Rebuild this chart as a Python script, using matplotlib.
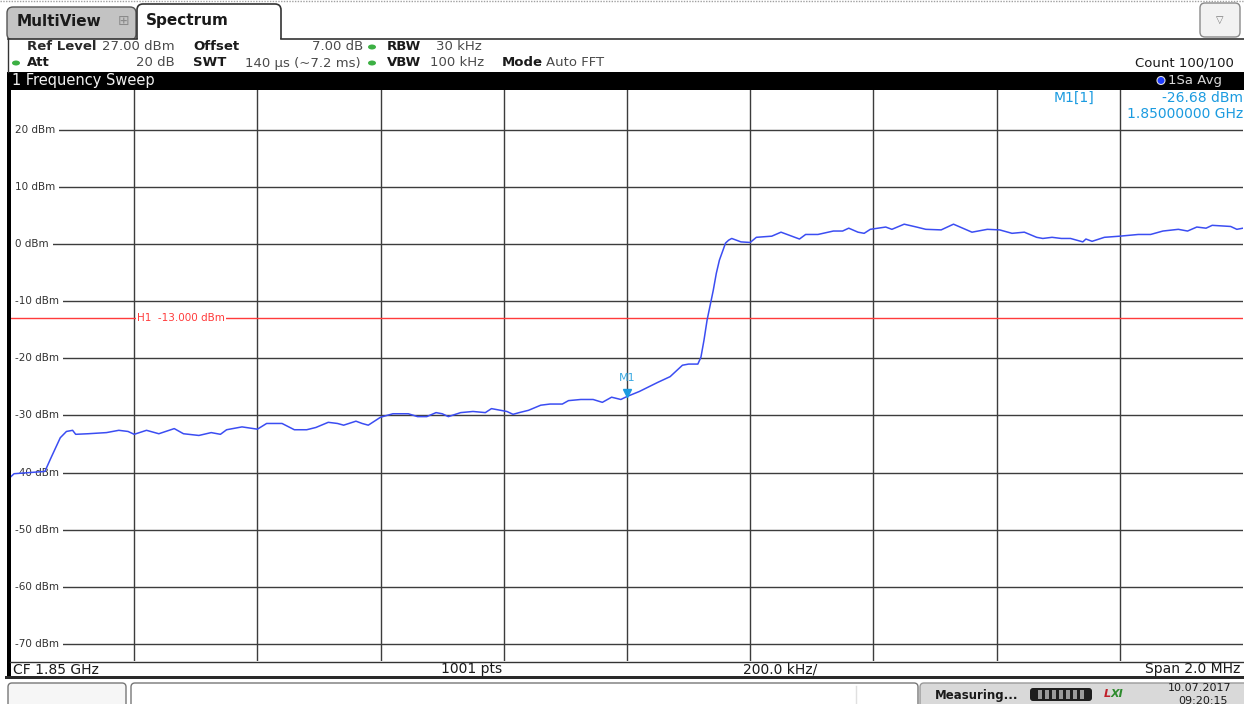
import matplotlib
matplotlib.use("Agg")
import matplotlib.pyplot as plt
import matplotlib.patches as patches
import matplotlib.transforms as mtransforms

W, H = 1244, 704

# sweep settings
center_mhz = 1850.0
span_mhz = 2.0
ref_level = 27.0
range_db = 100.0
h1_level = -13.0
marker_mhz = 1850.0
marker_level = -26.68

# averaged trace: offset from start frequency (kHz), level (dBm)
offset_khz = [0, 5, 30, 55, 65, 80, 90, 100, 105, 125, 155, 175, 190, 200, 220,
              240, 265, 280, 305, 325, 340, 350, 375, 400, 415, 440, 460, 480,
              495, 515, 530, 540, 560, 570, 580, 600, 620, 645, 660, 675, 690,
              700, 710, 730, 750, 770, 780, 795, 805, 815, 825, 840, 860, 875,
              895, 905, 925, 945, 960, 975, 990, 1000, 1020, 1050, 1070, 1090,
              1100, 1115, 1120, 1125, 1130, 1140, 1145, 1150, 1160, 1165, 1170,
              1185, 1200, 1210, 1235, 1250, 1280, 1290, 1310, 1335, 1350, 1360,
              1375, 1385, 1395, 1420, 1430, 1450, 1470, 1485, 1510, 1530, 1560,
              1585, 1605, 1625, 1645, 1665, 1675, 1690, 1705, 1720, 1740, 1745,
              1755, 1775, 1800, 1830, 1850, 1870, 1895, 1910, 1925, 1940, 1950,
              1980, 1990, 2000]
level_dbm = [-40.7, -40.2, -40.0, -39.8, -37.4, -33.9, -32.8, -32.6, -33.3, -33.2,
             -33.0, -32.6, -32.8, -33.3, -32.6, -33.2, -32.3, -33.2, -33.5, -33.0,
             -33.3, -32.5, -32.0, -32.4, -31.4, -31.4, -32.5, -32.5, -32.1, -31.2,
             -31.4, -31.7, -31.0, -31.4, -31.7, -30.3, -29.7, -29.7, -30.2, -30.2,
             -29.5, -29.7, -30.2, -29.5, -29.3, -29.5, -28.8, -29.1, -29.3, -29.8,
             -29.5, -29.1, -28.2, -28.0, -28.0, -27.4, -27.2, -27.2, -27.7, -26.8,
             -27.2, -26.68, -25.8, -24.2, -23.2, -21.2, -21.0, -21.0, -19.8, -16.8,
             -13.3, -8.1, -5.1, -2.8, 0.2, 0.7, 1.0, 0.4, 0.3, 1.2, 1.4, 2.1, 0.9,
             1.7, 1.7, 2.3, 2.3, 2.8, 2.1, 1.9, 2.6, 3.0, 2.6, 3.5, 3.0, 2.6, 2.5,
             3.5, 2.1, 2.6, 2.5, 1.9, 2.1, 1.2, 1.0, 1.2, 1.0, 1.0, 0.4, 0.9, 0.5,
             1.2, 1.4, 1.7, 1.7, 2.3, 2.6, 2.3, 3.0, 2.8, 3.3, 3.1, 2.6, 2.8]

level_ticks = [20, 10, 0, -10, -20, -30, -40, -50, -60, -70]

grid_color = "#3c3c3c"
trace_color = "#3b4df2"
marker_color = "#1b9be0"
text_dark = "#1a1a1a"
text_gray = "#4a4a4a"


def px_rect(ax, x0, y0, x1, y1, **kw):
    ax.add_patch(patches.Rectangle((x0, y0), x1 - x0, y1 - y0, **kw))


def px_round(ax, x0, y0, x1, y1, r=5, **kw):
    ax.add_patch(patches.FancyBboxPatch((x0, y0), x1 - x0, y1 - y0,
                                        boxstyle="round,pad=0,rounding_size=%d" % r, **kw))


fig = plt.figure(figsize=(W / 100, H / 100), dpi=100)
fig.patch.set_facecolor("white")

# screen chrome drawn in pixel coordinates
bg = fig.add_axes([0, 0, 1, 1])
bg.set_xlim(0, W)
bg.set_ylim(H, 0)
bg.axis("off")

bg.plot([0, W], [1, 1], color="#a0a0a0", lw=1, ls=(0, (1, 1)))

# tabs
px_round(bg, 7, 7, 136, 40, r=6, fc="#c3c3c3", ec="#555555", lw=1)
bg.text(17, 22, "MultiView", fontsize=11, fontweight="bold", color=text_dark, va="center")
bg.text(124, 21, "\u229e", fontsize=10, color="#8a8a8a", va="center", ha="center")
px_round(bg, 137, 4, 281, 44, r=6, fc="white", ec="#333333", lw=1.2)
px_round(bg, 1200, 3, 1240, 37, r=5, fc="#f2f2f2", ec="#8a8a8a", lw=1)
bg.text(1220, 20, "\u25bd", fontsize=7, color="#777777", va="center", ha="center")
bg.text(146, 21, "Spectrum", fontsize=11, fontweight="bold", color=text_dark, va="center")

# settings box
px_rect(bg, 8, 38.5, W, 72, fc="white", ec="none")
bg.plot([281, W], [38.5, 38.5], color="#333333", lw=1.2)
bg.plot([8, 137], [38.5, 38.5], color="#333333", lw=1.2)
bg.plot([8, 8], [38.5, 72], color="#333333", lw=1)

row1, row2 = 47, 63
fs = 9.5
bg.text(27, row1, "Ref Level", fontsize=fs, color="#2a2a2a", fontweight="semibold", va="center")
bg.text(102, row1, "27.00 dBm", fontsize=fs, color=text_gray, va="center")
bg.text(193, row1, "Offset", fontsize=fs, color=text_dark, fontweight="bold", va="center")
bg.text(363, row1, "7.00 dB", fontsize=fs, color=text_gray, va="center", ha="right")
bg.text(387, row1, "RBW", fontsize=fs, color=text_dark, fontweight="bold", va="center")
bg.text(436, row1, "30 kHz", fontsize=fs, color=text_gray, va="center")

bg.text(27, row2, "Att", fontsize=fs, color=text_dark, fontweight="bold", va="center")
bg.text(175, row2, "20 dB", fontsize=fs, color=text_gray, va="center", ha="right")
bg.text(193, row2, "SWT", fontsize=fs, color=text_dark, fontweight="bold", va="center")
bg.text(245, row2, "140 \u00b5s (~7.2 ms)", fontsize=fs, color=text_gray, va="center")
bg.text(387, row2, "VBW", fontsize=fs, color=text_dark, fontweight="bold", va="center")
bg.text(430, row2, "100 kHz", fontsize=fs, color=text_gray, va="center")
bg.text(502, row2, "Mode", fontsize=fs, color=text_dark, fontweight="bold", va="center")
bg.text(546, row2, "Auto FFT", fontsize=fs, color=text_gray, va="center")
bg.text(1234, row2, "Count 100/100", fontsize=fs, color=text_dark, va="center", ha="right")

for dx, dy in [(372, row1), (16, row2), (372, row2)]:
    bg.add_patch(patches.Ellipse((dx, dy), 8, 5, fc="#3cb043", ec="none"))

# window title bar
px_rect(bg, 8, 72, W, 89.5, fc="black", ec="none")
bg.text(12, 80.5, "1 Frequency Sweep", fontsize=10.5, color="#f0f0f0", va="center")
bg.add_patch(patches.Ellipse((1161, 80.5), 8, 8, fc="#1f3cff", ec="#dddddd", lw=0.8))
bg.text(1168, 80.5, "1Sa Avg", fontsize=9.5, color="#d8d8d8", va="center")

# left border and footer row
px_rect(bg, 7, 72, 10.5, 678, fc="black", ec="none")
px_rect(bg, 10.5, 662, W, 676, fc="white", ec="none")
bg.plot([10, W], [662, 662], color="#333333", lw=1)
px_rect(bg, 5, 676, W, 679, fc="#2a2a2a", ec="none")
bg.text(13, 669.5, "CF 1.85 GHz", fontsize=10, color=text_dark, va="center")
bg.text(472, 669.5, "1001 pts", fontsize=10, color=text_dark, va="center", ha="center")
bg.text(780, 669.5, "200.0 kHz/", fontsize=10, color=text_dark, va="center", ha="center")
bg.text(1240, 669.5, "Span 2.0 MHz", fontsize=10, color=text_dark, va="center", ha="right")

# status bar
px_round(bg, 8, 683, 126, 712, r=4, fc="#f6f6f6", ec="#777777", lw=1)
px_round(bg, 131, 683, 918, 712, r=4, fc="white", ec="#777777", lw=1)
bg.plot([856, 856], [686, 704], color="#e0e0e0", lw=1)
px_round(bg, 920, 683, W + 4, 712, r=4, fc="#d9d9d9", ec="#9a9a9a", lw=1)
bg.text(935, 695, "Measuring...", fontsize=8.5, fontweight="bold", color=text_dark, va="center")
px_round(bg, 1030, 688, 1092, 701, r=3, fc="#1e1e1e", ec="none")
for k in range(7):
    px_rect(bg, 1038 + k * 7, 690, 1042 + k * 7, 699, fc="#9a9a9a", ec="none")
bg.text(1104, 694, "L", fontsize=8, fontweight="bold", fontstyle="italic", color="#c0202a", va="center")
bg.text(1111, 694, "XI", fontsize=8, fontweight="bold", fontstyle="italic", color="#2e8b2e", va="center")
bg.text(1168, 688, "10.07.2017", fontsize=8, color=text_dark, va="center")
bg.text(1178, 701, "09:20:15", fontsize=8, color=text_dark, va="center")

# measurement diagram
ax = fig.add_axes([11 / W, (H - 661) / H, 1232 / W, 571 / H])
start = center_mhz - span_mhz / 2
stop = center_mhz + span_mhz / 2
ax.set_xlim(start, stop)
ax.set_ylim(ref_level - range_db, ref_level)
ax.set_facecolor("white")
for s in ax.spines.values():
    s.set_visible(False)
ax.set_xticks([])
ax.set_yticks([])

for k in range(1, 10):
    ax.axvline(start + k * span_mhz / 10, color=grid_color, lw=1, zorder=1)
for lv in level_ticks:
    ax.axhline(lv, xmin=0.004, color=grid_color, lw=1, zorder=1)
    ax.text(0.0035, lv, "%d dBm" % lv, transform=ax.get_yaxis_transform(),
            fontsize=7.5, color="#333333", va="center", ha="left", zorder=2,
            bbox=dict(fc="white", ec="none", pad=2.6))

ax.axhline(h1_level, color="#ff3b3b", lw=1, zorder=2.5)
ax.text(0.1023, h1_level, "H1  -13.000 dBm", transform=ax.get_yaxis_transform(),
        fontsize=7.5, color="#ff3b3b", va="center", ha="left", zorder=2.6,
        bbox=dict(fc="white", ec="none", pad=0.8))

freq_mhz = [start + k / 1000 for k in offset_khz]
ax.plot(freq_mhz, level_dbm, color=trace_color, lw=1.1, zorder=3)

up = mtransforms.offset_copy(ax.transData, fig=fig, x=0, y=4, units="dots")
ax.plot([marker_mhz], [marker_level], marker="v", ms=6, color=marker_color,
        transform=up, zorder=4)
ax.annotate("M1", (marker_mhz, marker_level), xytext=(0, 10), textcoords="offset points",
            fontsize=8, color="#3aa9e2", ha="center", va="bottom", zorder=4)

# marker readout (pixel positions, drawn on top of the diagram)
ax.text(1054, 98, "M1[1]", fontsize=10, color=marker_color, va="center",
        transform=bg.transData, zorder=5)
ax.text(1243, 98, "-26.68 dBm", fontsize=10, color=marker_color, va="center", ha="right",
        transform=bg.transData, zorder=5)
ax.text(1243, 114.5, "1.85000000 GHz", fontsize=10, color=marker_color, va="center", ha="right",
        transform=bg.transData, zorder=5, bbox=dict(fc="white", ec="none", pad=1.5))
bg.set_zorder(0)
ax.set_zorder(1)

fig.savefig("out.png", dpi=100)
